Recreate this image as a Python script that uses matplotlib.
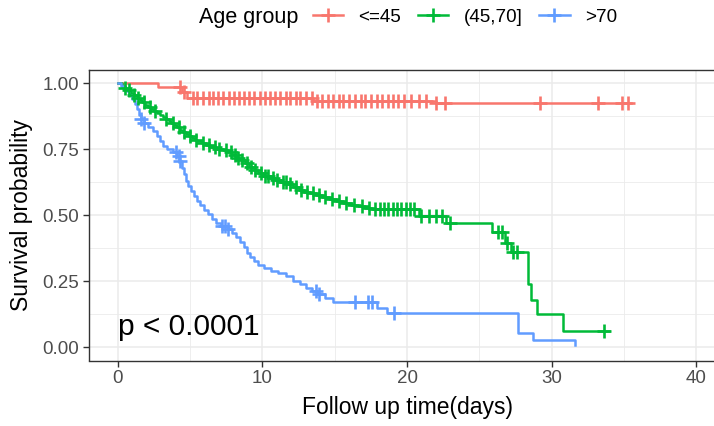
import numpy as np
import matplotlib.pyplot as plt
from matplotlib.lines import Line2D

plt.rcParams.update({
    "font.family": ["Liberation Sans", "DejaVu Sans"],
    "axes.linewidth": 1.0,
})

# Kaplan-Meier step curves (time in days, survival after each drop)
red_t = [0, 2.8, 4.4, 4.8, 13.5, 22.0]
red_s = [1.0, 0.985, 0.965, 0.942, 0.932, 0.925]
red_end = 35.5
red_cens = [4.3, 4.6, 5.2, 5.5, 5.9, 6.3, 6.6, 6.9, 7.3, 7.7, 8.0, 8.4, 8.7,
            9.1, 9.4, 9.8, 10.2, 10.5, 10.9, 11.2, 11.6, 11.9, 12.3, 12.6,
            13.0, 13.4, 13.8, 14.1, 14.5, 14.9, 15.3, 15.6, 16.0, 16.4, 16.8,
            17.1, 17.5, 17.9, 18.3, 18.7, 19.0, 19.4, 19.8, 20.3, 20.8, 21.3,
            22.0, 22.6, 29.2, 33.2, 34.9, 35.3]

green_t = [0, 0.3, 0.5, 0.7, 0.9, 1.1, 1.3, 1.5, 1.7, 1.9, 2.1, 2.3, 2.5, 2.7,
           2.9, 3.1, 3.3, 3.5, 3.7, 3.9, 4.1, 4.3, 4.5, 4.7, 4.9, 5.1, 5.3,
           5.5, 5.8, 6.1, 6.4, 6.8, 7.3, 7.6, 7.9, 8.2, 8.5, 8.8, 9.1, 9.4,
           9.7, 10.1, 10.5, 10.9, 11.3, 11.7, 12.1, 12.5, 12.9, 13.3, 13.7,
           14.1, 14.6, 15.1, 15.6, 16.1, 16.6, 17.1, 17.6, 20.8, 22.7, 25.9,
           26.8, 27.2, 28.4, 28.6, 29.0, 30.8]
green_s = [1.0, 0.99, 0.98, 0.972, 0.963, 0.955, 0.945, 0.936, 0.927, 0.918,
           0.91, 0.902, 0.894, 0.886, 0.878, 0.87, 0.862, 0.855, 0.848, 0.84,
           0.832, 0.824, 0.816, 0.808, 0.8, 0.793, 0.786, 0.779, 0.772, 0.765,
           0.758, 0.752, 0.746, 0.738, 0.728, 0.718, 0.708, 0.696, 0.684,
           0.672, 0.66, 0.65, 0.641, 0.632, 0.624, 0.617, 0.607, 0.597, 0.589,
           0.582, 0.575, 0.569, 0.562, 0.555, 0.547, 0.54, 0.534, 0.528, 0.522,
           0.495, 0.47, 0.435, 0.395, 0.36, 0.24, 0.18, 0.125, 0.06]
green_end = 34.0
green_cens = [0.5, 0.8, 1.1, 1.4, 1.8, 2.2, 2.6, 3.3, 3.8, 4.2, 4.6, 5.0, 5.4,
              5.9, 6.3, 6.7, 7.0, 7.5, 7.8, 8.1, 8.3, 8.6, 8.9, 9.2, 9.5, 9.9,
              10.2, 10.4, 10.7, 11.0, 11.4, 11.6, 11.9, 12.3, 12.7, 13.1, 13.5,
              13.9, 14.3, 14.8, 15.3, 15.8, 16.3, 16.9, 17.4, 17.8, 18.1, 18.4,
              18.7, 19.0, 19.3, 19.6, 19.9, 20.2, 20.5, 21.0, 21.5, 22.0, 22.4,
              23.0, 26.3, 26.6, 26.9, 27.3, 27.6, 33.6]

blue_t = [0, 0.2, 0.4, 0.6, 0.8, 1.0, 1.15, 1.3, 1.45, 1.6, 1.8, 2.1, 2.4,
          2.7, 2.9, 3.1, 3.4, 3.8, 4.1, 4.25, 4.4, 4.55, 4.7, 4.85, 5.05, 5.25,
          5.45, 5.7, 5.95, 6.2, 6.5, 6.8, 7.1, 7.6, 7.9, 8.2, 8.45, 8.7, 8.9,
          9.15, 9.4, 9.7, 10.1, 10.6, 11.1, 11.6, 12.1, 12.6, 13.0, 13.4, 13.8,
          14.3, 14.9, 17.9, 18.6, 27.7, 28.7, 31.6]
blue_s = [1.0, 0.99, 0.98, 0.968, 0.955, 0.94, 0.92, 0.9, 0.88, 0.865, 0.85,
          0.835, 0.82, 0.8, 0.78, 0.762, 0.75, 0.738, 0.725, 0.705, 0.68, 0.655,
          0.63, 0.61, 0.59, 0.572, 0.555, 0.538, 0.52, 0.503, 0.487, 0.472,
          0.46, 0.448, 0.432, 0.416, 0.398, 0.378, 0.358, 0.34, 0.325, 0.31,
          0.3, 0.29, 0.28, 0.268, 0.252, 0.238, 0.225, 0.212, 0.2, 0.187, 0.173,
          0.15, 0.13, 0.053, 0.028, 0.01]
blue_end = 31.6
blue_cens = [1.6, 1.8, 4.0, 4.2, 4.3, 7.2, 7.4, 7.6, 13.7, 13.9, 16.4, 17.3,
             17.6, 19.1]

groups = ["<=45", "(45,70]", ">70"]
colors = ["#F8766D", "#00BA38", "#619CFF"]
curves = [
    (red_t, red_s, red_end, red_cens),
    (green_t, green_s, green_end, green_cens),
    (blue_t, blue_s, blue_end, blue_cens),
]

fig = plt.figure(figsize=(7.14, 4.26), dpi=100)
ax = fig.add_axes([89 / 714, 65.5 / 426, 636 / 714, 290.7 / 426])

for (t, s, end, cens), col in zip(curves, colors):
    t = np.array(t + [end])
    s = np.array(s + [s[-1]])
    ax.step(t, s, where="post", color=col, lw=1.8, zorder=3)
    cens = np.array(cens)
    idx = np.searchsorted(t, cens, side="right") - 1
    ax.plot(cens, s[idx], ls="none", marker="+", ms=10, mew=1.9,
            color=col, zorder=4)

ax.set_xlim(-2, 42)
ax.set_ylim(-0.05, 1.05)
ax.set_xticks([0, 10, 20, 30, 40])
ax.set_xticks([5, 15, 25, 35], minor=True)
ax.set_yticks([0, 0.25, 0.5, 0.75, 1.0])
ax.set_yticklabels(["0.00", "0.25", "0.50", "0.75", "1.00"])
ax.set_yticks([0.125, 0.375, 0.625, 0.875], minor=True)
ax.grid(True, which="major", color="#EBEBEB", lw=1.1, zorder=0)
ax.grid(True, which="minor", color="#EBEBEB", lw=0.6, zorder=0)
ax.set_axisbelow(True)
for sp in ax.spines.values():
    sp.set_color("#333333")
ax.tick_params(which="major", length=4, width=1.0, color="#333333",
               labelsize=13.5, labelcolor="#4D4D4D", pad=3)
ax.tick_params(which="minor", length=0)

ax.set_xlabel("Follow up time(days)", fontsize=16.5, labelpad=6)
ax.set_ylabel("Survival probability", fontsize=16.5, labelpad=7)

ax.text(0, 0.046, "p < 0.0001", fontsize=21.5, ha="left", va="baseline",
        zorder=5)

fig.text(199 / 714, 1 - 17 / 426, "Age group", fontsize=15.5,
         ha="left", va="center")
handles = [Line2D([], [], color=c, lw=1.8, marker="+", ms=10, mew=1.9)
           for c in colors]
fig.legend(handles, groups, loc="center left",
           bbox_to_anchor=(313 / 714, 1 - 17 / 426), ncol=3, frameon=False,
           fontsize=13.6, handlelength=1.6, handletextpad=0.8,
           columnspacing=0.9, borderpad=0, borderaxespad=0)

fig.savefig("out.png", dpi=100)
